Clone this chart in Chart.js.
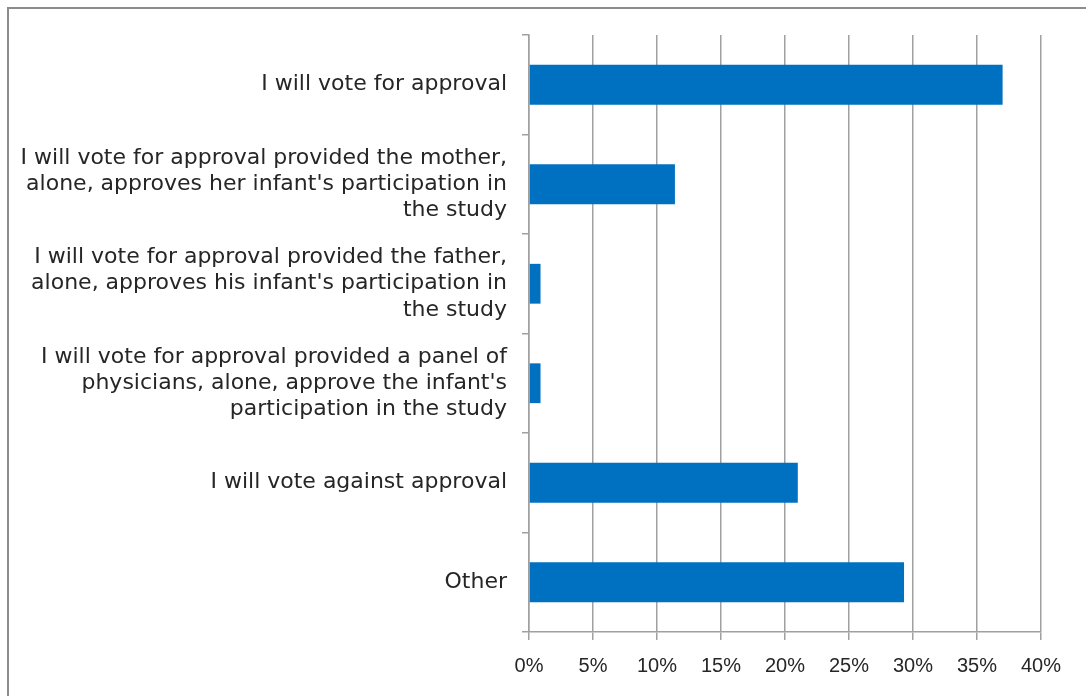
<!DOCTYPE html>
<html>
<head>
<meta charset="utf-8">
<script src="https://cdn.jsdelivr.net/npm/chart.js@4/dist/chart.umd.min.js"></script>
<style>
  html, body { margin: 0; padding: 0; background: #fff; overflow: hidden; }
  #frame { position: absolute; left: 7px; top: 7px; width: 1200px; height: 800px;
           border-top: 2px solid #8c8c8c; border-left: 2px solid #8c8c8c; }
  #wrap { position: absolute; left: 0; top: 0; width: 1086px; height: 696px; }
</style>
</head>
<body>
<div id="frame"></div>
<div id="wrap"><canvas id="chart"></canvas></div>
<script>
const categories = [
  ["I will vote for approval"],
  ["I will vote for approval provided the mother,", "alone, approves her infant's participation in", "the study"],
  ["I will vote for approval provided the father,", "alone, approves his infant's participation in", "the study"],
  ["I will vote for approval provided a panel of", "physicians, alone, approve the infant's", "participation in the study"],
  ["I will vote against approval"],
  ["Other"]
];
const shares = [37.0, 11.4, 0.9, 0.9, 21.0, 29.3]; // percent
const xTicks = [0, 5, 10, 15, 20, 25, 30, 35, 40];

const gridGray = "#a0a0a0";
const textColor = "#262626";

new Chart("chart", {
  type: "bar",
  data: {
    labels: categories,
    datasets: [{
      data: shares,
      backgroundColor: "#0070C0",
      barPercentage: 0.4,
      categoryPercentage: 1
    }]
  },
  options: {
    indexAxis: "y",
    responsive: true,
    maintainAspectRatio: false,
    animation: false,
    layout: { padding: { top: 35, right: 45, left: 0, bottom: 0 } },
    plugins: { legend: { display: false }, tooltip: { enabled: false } },
    scales: {
      x: {
        min: 0,
        max: 40,
        afterBuildTicks: scale => { scale.ticks = xTicks.map(v => ({ value: v })); },
        ticks: {
          callback: v => v + "%",
          color: textColor,
          font: { family: "'Liberation Sans', Arial, sans-serif", size: 20 },
          padding: 14,
          maxRotation: 0
        },
        grid: { color: gridGray, lineWidth: 1.5, tickLength: 8 },
        border: { color: gridGray, width: 1.5 },
        afterFit: scale => { scale.height = 64; }
      },
      y: {
        offset: true,
        ticks: {
          color: textColor,
          font: { family: "'DejaVu Sans', sans-serif", size: 22, lineHeight: 1.2 },
          padding: 15,
          autoSkip: false
        },
        grid: { offset: true, drawOnChartArea: false, color: gridGray, lineWidth: 1.5, tickLength: 7 },
        border: { color: gridGray, width: 1.5 },
        afterFit: scale => { scale.width = 529; }
      }
    }
  }
});
</script>
</body>
</html>
